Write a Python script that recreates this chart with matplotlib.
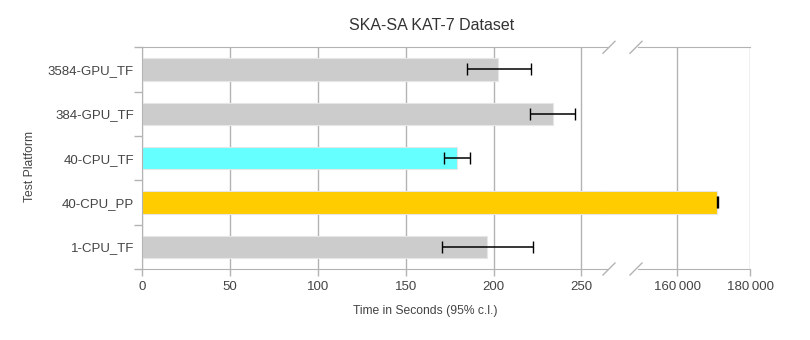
import matplotlib
matplotlib.use("Agg")
import matplotlib.pyplot as plt
from matplotlib.patches import Rectangle
from matplotlib.ticker import FuncFormatter

plt.rcParams['font.family'] = ['Liberation Sans', 'DejaVu Sans']

# data (bottom to top)
platforms = ['1-CPU_TF', '40-CPU_PP', '40-CPU_TF', '384-GPU_TF', '3584-GPU_TF']
times = [196.5, 171000, 179, 233.7, 202.5]
err_low = [170.8, 170950, 171.6, 221, 184.7]
err_high = [222.3, 171050, 186.8, 246.6, 221.5]
colors = ['#cccccc', '#ffcc00', '#66ffff', '#cccccc', '#cccccc']

left_ticks = [0, 50, 100, 150, 200, 250]
right_ticks = [160000, 180000]

W, H = 810, 340
fig = plt.figure(figsize=(W / 100, H / 100), dpi=100)

top, bot = 47.3, 269
ax1 = fig.add_axes([142.3 / W, 1 - bot / H, (607 - 142.3) / W, (bot - top) / H])
ax2 = fig.add_axes([638 / W, 1 - bot / H, (750.3 - 638) / W, (bot - top) / H])

grid_c = '#b3b3b3'
txt_c = '#444444'
ypos = list(range(len(platforms)))
xerr = [[t - l for t, l in zip(times, err_low)], [h - t for t, h in zip(times, err_high)]]

# bars in the right part may run through the gap, up to the left part
gap_clip = Rectangle((600 / W, 0), (751 - 600) / W, 1, transform=fig.transFigure)

for ax in (ax1, ax2):
    bars = ax.barh(ypos, times, height=0.5, color=colors, edgecolor='#e6e6e6',
                   linewidth=0.8, zorder=2)
    if ax is ax2:
        for b in bars:
            b.set_clip_path(gap_clip)
    ax.errorbar(times, ypos, xerr=xerr, fmt='none', ecolor='black', elinewidth=1.1,
                capsize=4, capthick=1.0, zorder=3)
    ax.set_ylim(-0.5, len(platforms) - 0.5)
    ax.grid(axis='x', color=grid_c, linewidth=1, zorder=0)
    ax.set_axisbelow(True)
    for s in ('top', 'bottom'):
        ax.spines[s].set_color(grid_c)
    ax.tick_params(axis='x', colors=grid_c, labelcolor=txt_c, labelsize=9.5, length=5, width=1)

ax1.set_xlim(0, 264.6)
ax1.set_xticks(left_ticks)
ax1.spines['right'].set_visible(False)
ax1.spines['left'].set_color(grid_c)
ax1.set_yticks(ypos)
ax1.set_yticklabels(platforms)
ax1.tick_params(axis='y', which='major', length=0, labelsize=9.5, labelcolor=txt_c, pad=6)
ax1.set_yticks([y + 0.5 for y in range(-1, len(platforms))], minor=True)
ax1.tick_params(axis='y', which='minor', length=6, color=grid_c, width=1)

ax2.set_xlim(149200, 180000)
ax2.set_xticks(right_ticks)
ax2.xaxis.set_major_formatter(FuncFormatter(lambda v, p: f'{int(v):,}'.replace(',', '\u2009')))
ax2.spines['left'].set_visible(False)
ax2.spines['right'].set_visible(False)
ax2.set_yticks([])

# break marks
for xc in (609, 636):
    for yc in (top, bot):
        fig.add_artist(plt.Line2D([(xc - 6) / W, (xc + 6) / W],
                                  [1 - (yc + 6) / H, 1 - (yc - 6) / H],
                                  color=grid_c, linewidth=1))

fig.text(432 / W, 1 - 25 / H, 'SKA-SA KAT-7 Dataset', ha='center', va='center',
         fontsize=11.5, color='#333333')
fig.text(425 / W, 1 - 311 / H, 'Time in Seconds (95% c.l.)', ha='center', va='center',
         fontsize=8.7, color=txt_c)
fig.text(30 / W, 1 - 167 / H, 'Test Platform', ha='center', va='center', rotation=90,
         fontsize=8.7, color=txt_c)

fig.savefig('out.png', dpi=100)
